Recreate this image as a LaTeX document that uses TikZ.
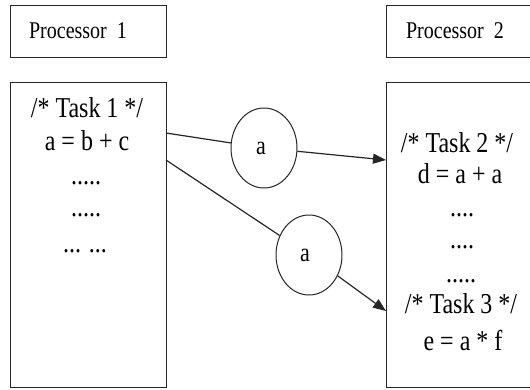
\documentclass[tikz,border=0pt]{standalone}
\usepackage{fontspec}
\setmainfont{Liberation Serif}
\usetikzlibrary{arrows.meta,shapes.geometric}
\newcommand{\tallT}[1]{\scalebox{1}[1.2]{#1}}
\begin{document}
\begin{tikzpicture}[x=1pt,y=-1pt,
  box/.style={draw=black!85, line width=1.2pt, rectangle, inner sep=0pt, anchor=north west},
  code/.style={font=\fontsize{24}{28}\selectfont, inner sep=0pt, anchor=base},
  hdr/.style={font=\fontsize{20}{24}\selectfont, inner sep=0pt, anchor=base},
  msg/.style={draw=black!85, line width=1pt, ellipse, minimum width=66pt, minimum height=80pt, inner sep=0pt, font=\fontsize{22}{26}\selectfont},
  link/.style={draw=black!85, line width=1.2pt},
  arr/.style={link, -{Triangle[length=13pt,width=10pt]}}]
\useasboundingbox (0,0) rectangle (530,389);
\fill[white] (0,0) rectangle (530,389);
\begin{scope}
\clip (0,0) rectangle (530,389);
% boxes
\node[box, minimum width=156pt, minimum height=52pt] (h1) at (10,5) {};
\node[box, minimum width=160pt, minimum height=52pt] (h2) at (386,5) {};
\node[box, minimum width=156pt, minimum height=305.5pt] (m1) at (10,81.5) {};
\node[box, minimum width=160pt, minimum height=305.5pt] (m2) at (386,81.5) {};
% headers
\node[hdr] (h1t) at (78,38) {\tallT{Processor\ \ 1}};
\node[hdr] (h2t) at (455,38) {\tallT{Processor\ \ 2}};
% left code
\node[code] (l1) at (87,117) {\tallT{/* Task 1 */}};
\node[code] (l2) at (87,150) {\tallT{a = b + c}};
\node[code] (l3) at (86,184) {\tallT{.....}};
\node[code] (l4) at (86,216) {\tallT{.....}};
\node[code] (l5) at (85,252) {\tallT{... ...}};
% right code
\node[code] (r1) at (457,152) {\tallT{/* Task 2 */}};
\node[code] (r2) at (460,183) {\tallT{d = a + a}};
\node[code] (r3) at (462,216) {\tallT{....}};
\node[code] (r4) at (462,248) {\tallT{....}};
\node[code] (r5) at (461,282) {\tallT{.....}};
\node[code] (r6) at (461,313) {\tallT{/* Task 3 */}};
\node[code] (r7) at (463,350) {\tallT{e = a * f}};
% messages
\node[msg] (c1) at (264,148) {\tallT{a}\hspace*{6pt}};
\node[msg] (c2) at (309,255) {\tallT{a}\hspace*{8pt}};
% connector ends
\coordinate (s1) at (166,133);
\coordinate (s2) at (166,160);
\coordinate (e1) at (386,160);
\coordinate (e2) at (386,311);
\draw[link] (s1) -- (c1);
\draw[arr] (c1) -- (e1);
\draw[link] (s2) -- (c2);
\draw[arr] (c2) -- (e2);
\end{scope}
\end{tikzpicture}
\end{document}
